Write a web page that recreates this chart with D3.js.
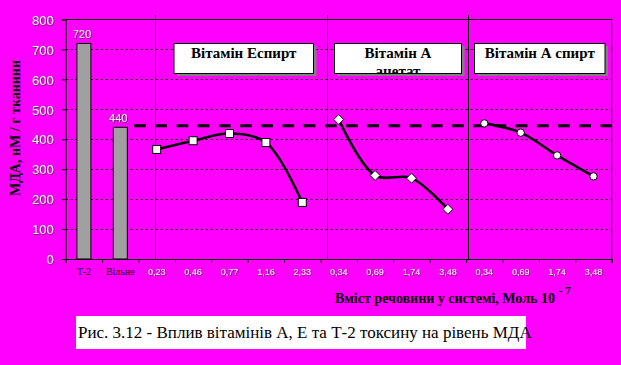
<!DOCTYPE html>
<html><head><meta charset="utf-8">
<script src="https://cdn.jsdelivr.net/npm/d3@7"></script>
<style>
html,body{margin:0;padding:0;background:#ff00ff;}
svg{display:block;}
.serif{font-family:"Liberation Serif","Times New Roman",serif;}
.sans{font-family:"Liberation Sans",Arial,sans-serif;}
</style></head>
<body>
<svg id="chart" width="621" height="365"></svg>
<script>
// ---- data ----
const categories = ["Т-2","Вільне","0,23","0,46","0,77","1,16","2,33","0,34","0,69","1,74","3,48","0,34","0,69","1,74","3,48"];
const barCats = [0, 1];
const barValues = [720, 440];
const eSpirtCats = [2,3,4,5,6];
const eSpirtValues = [366, 395, 419, 389, 189];
const aAcetCats = [7,8,9,10];
const aAcetValues = [466, 279, 270, 166];
const aSpirtCats = [11,12,13,14];
const aSpirtValues = [453, 422, 346, 276];
const refValue = 445;
const yTicks = [0,100,200,300,400,500,600,700,800];
const groupLabels = [["Вітамін Еспирт"],["Вітамін А","ацетат"],["Вітамін А спирт"]];
const separators = [2.45, 7.18, 11.05];

// ---- layout ----
const L = 65.7, R = 611.7, T = 19.5, B = 259;
const svg = d3.select("#chart");
const idx = d3.range(categories.length);
const x = d3.scaleBand().domain(idx).range([L, R]).padding(0);
const xc = i => x(i) + x.bandwidth()/2;
const xi = d3.scaleLinear().domain([0, categories.length]).range([L, R]);
const y = d3.scaleLinear().domain([0, 800]).range([B, T]);

const defs = svg.append("defs");
const f = defs.append("filter").attr("id","sh").attr("x","-20%").attr("y","-20%").attr("width","140%").attr("height","140%");
f.append("feDropShadow").attr("dx",0.7).attr("dy",0.7).attr("stdDeviation",0.3).attr("flood-color","#333").attr("flood-opacity",0.9);

// frame top & right
svg.append("path").attr("d", `M${L},${T}H${R}V${B}`).attr("fill","none").attr("stroke","#000").attr("stroke-width",1);

// gridlines
svg.append("g").selectAll("line").data(yTicks.filter(d=>d>0 && d<800)).join("line")
  .attr("x1", L).attr("x2", R).attr("y1", d=>Math.round(y(d))+0.5).attr("y2", d=>Math.round(y(d))+0.5)
  .attr("stroke","#000").attr("stroke-width",1).attr("stroke-dasharray","2,3");

// separators
svg.append("g").selectAll("line").data(separators).join("line")
  .attr("x1", d=>Math.round(xi(d))+0.5).attr("x2", d=>Math.round(xi(d))+0.5)
  .attr("y1", 15).attr("y2", B).attr("stroke","#000").attr("stroke-width",1);

// bars
svg.append("g").selectAll("rect").data(barCats).join("rect")
  .attr("x", (d)=>xc(d)-7).attr("width", 14)
  .attr("y", (d,i)=>y(barValues[i])).attr("height", (d,i)=>B - y(barValues[i]))
  .attr("fill","#a0a0a0").attr("stroke","#000").attr("stroke-width",1);
svg.append("g").selectAll("text").data(barCats).join("text")
  .attr("class","sans")
  .attr("x", d=>xc(d)-2).attr("y", (d,i)=>y(barValues[i])-5)
  .attr("text-anchor","middle").attr("font-size",11)
  .attr("fill","#f2f2f2").attr("filter","url(#sh)").text((d,i)=>barValues[i]);

// reference dashed line
svg.append("line").attr("x1", xi(1.88)).attr("x2", R).attr("y1", y(refValue)).attr("y2", y(refValue))
  .attr("stroke","#000").attr("stroke-width",3).attr("stroke-dasharray","11.7,9.5");

// lines
const line = d3.line().curve(d3.curveCatmullRom.alpha(0.5));
function series(cats, vals, marker){
  const pts = cats.map((c,i)=>[xc(c), y(vals[i])]);
  svg.append("path").attr("d", line(pts)).attr("fill","none").attr("stroke","#000").attr("stroke-width",2.6);
  const g = svg.append("g");
  pts.forEach(p=>{
    if (marker==="square") g.append("rect").attr("x",p[0]-4).attr("y",p[1]-4).attr("width",8).attr("height",8);
    else if (marker==="diamond") g.append("path").attr("d",`M${p[0]},${p[1]-5}L${p[0]+5},${p[1]}L${p[0]},${p[1]+5}L${p[0]-5},${p[1]}Z`);
    else g.append("circle").attr("cx",p[0]).attr("cy",p[1]).attr("r",3.7);
  });
  g.selectAll("*").attr("fill","#fff").attr("stroke","#000").attr("stroke-width",1);
}
series(eSpirtCats, eSpirtValues, "square");
series(aAcetCats, aAcetValues, "diamond");
series(aSpirtCats, aSpirtValues, "circle");

// y axis
const yAxis = svg.append("g").attr("transform", `translate(${L},0)`)
  .call(d3.axisLeft(y).tickValues(yTicks).tickSize(4).tickPadding(8).tickFormat(d3.format("d")));
yAxis.attr("font-family",null).attr("font-size",null);
yAxis.select(".domain").attr("stroke","#000");
yAxis.selectAll(".tick line").attr("stroke","#000");
yAxis.selectAll(".tick text").attr("class","sans").attr("font-size",13)
  .attr("fill","#f2f2f2").attr("filter","url(#sh)").attr("dy","0.36em");

// x axis
const xAxis = svg.append("g").attr("transform", `translate(0,${B})`)
  .call(d3.axisBottom(xi).tickValues(d3.range(categories.length+1)).tickSize(4).tickFormat(""));
xAxis.select(".domain").attr("stroke","#000");
xAxis.selectAll(".tick line").attr("stroke","#000");
svg.append("g").selectAll("text").data(idx).join("text")
  .attr("class", d=> d<2 ? "serif" : "sans")
  .attr("x", d=>xc(d)).attr("y", B+16).attr("text-anchor","middle")
  .attr("font-size", d=> d<2 ? 10 : 9)
  .attr("fill", d=> d<2 ? "#000" : "#f2f2f2")
  .attr("filter", d=> d<2 ? null : "url(#sh)")
  .text(d=>categories[d]);

// axis titles
svg.append("text").attr("class","serif").attr("transform","translate(20,128) rotate(-90)").attr("text-anchor","middle")
  .attr("font-weight","bold").attr("font-size",14)
  .attr("fill","#000").text("МДА, нМ / г тканини");
const xt = svg.append("text").attr("class","serif").attr("x", 335).attr("y", 303)
  .attr("font-weight","bold").attr("font-size",14).attr("fill","#000");
xt.append("tspan").text("Вміст речовини у системі, Моль 10");
xt.append("tspan").attr("dx",4).attr("dy",-9).attr("font-size",11).text("- 7");

// group label boxes
const boxes = [{x0:174,x1:313.5},{x0:334.5,x1:461.5},{x0:474.5,x1:605}];
boxes.forEach((b,i)=>{
  const g = svg.append("g");
  g.append("rect").attr("x",b.x0+3).attr("y",46).attr("width",b.x1-b.x0).attr("height",30).attr("fill","#808080");
  g.append("rect").attr("x",b.x0).attr("y",43.5).attr("width",b.x1-b.x0).attr("height",30).attr("fill","#fff").attr("stroke","#000").attr("stroke-width",1);
  defs.append("clipPath").attr("id","cp"+i).append("rect").attr("x",b.x0).attr("y",43.5).attr("width",b.x1-b.x0).attr("height",29.5);
  const t = g.append("text").attr("class","serif").attr("clip-path",`url(#cp${i})`).attr("text-anchor","middle")
    .attr("font-weight","bold").attr("font-size",15).attr("fill","#000");
  groupLabels[i].forEach((s,k)=>{
    t.append("tspan").attr("x",(b.x0+b.x1)/2).attr("y",58+k*18).text(s);
  });
});

// caption
svg.append("rect").attr("x",76).attr("y",316).attr("width",450).attr("height",33).attr("fill","#fff");
svg.append("text").attr("class","serif").attr("x",78).attr("y",337.5)
  .attr("font-size",17).attr("fill","#000")
  .text("Рис. 3.12 - Вплив вітамінів А, Е та Т-2 токсину на рівень МДА");
</script>
</body></html>
